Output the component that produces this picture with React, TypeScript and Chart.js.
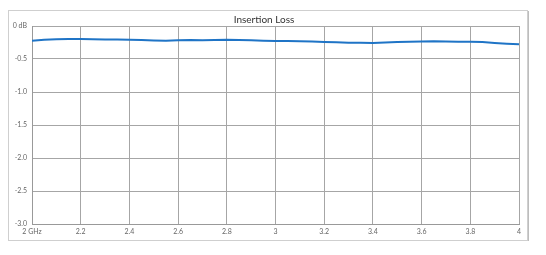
import React, { useEffect, useRef } from "react";
import { Chart, registerables } from "chart.js";

Chart.register(...registerables);

const freqGHz = [
  2.0, 2.05, 2.1, 2.15, 2.2, 2.25, 2.3, 2.35, 2.4, 2.45, 2.5, 2.55, 2.6, 2.65, 2.7, 2.75, 2.8, 2.85, 2.9, 2.95,
  3.0, 3.05, 3.1, 3.15, 3.2, 3.25, 3.3, 3.35, 3.4, 3.45, 3.5, 3.55, 3.6, 3.65, 3.7, 3.75, 3.8, 3.85, 3.9, 3.95, 4.0,
];
const lossDb = [
  -0.222, -0.208, -0.2, -0.198, -0.197, -0.2, -0.203, -0.205, -0.208, -0.213, -0.22, -0.225, -0.215, -0.212,
  -0.217, -0.212, -0.208, -0.212, -0.217, -0.222, -0.227, -0.229, -0.232, -0.236, -0.242, -0.248, -0.252,
  -0.255, -0.257, -0.25, -0.243, -0.238, -0.234, -0.23, -0.236, -0.238, -0.24, -0.244, -0.258, -0.268, -0.277,
];
const xTickLabels = ["2 GHz", "2.2", "2.4", "2.6", "2.8", "3", "3.2", "3.4", "3.6", "3.8", "4"];
const yTickLabels = ["0 dB", "-0.5", "-1.0", "-1.5", "-2.0", "-2.5", "-3.0"];
const title = "Insertion Loss";

export default function App() {
  const ref = useRef<HTMLCanvasElement>(null);
  useEffect(() => {
    if (!ref.current) return;
    const chart = new Chart(ref.current, {
      type: "line",
      data: {
        datasets: [
          {
            data: freqGHz.map((x, i) => ({ x, y: lossDb[i] })),
            borderColor: "#1f74c6",
            borderWidth: 2,
            pointRadius: 0,
            tension: 0,
          },
        ],
      },
      options: {
        responsive: false,
        animation: false,
        layout: { padding: { left: 0, right: 8, top: 0, bottom: 0 } },
        plugins: {
          legend: { display: false },
          tooltip: { enabled: false },
          title: {
            display: true,
            text: title,
            color: "#333",
            font: { family: "Lato, 'Open Sans', sans-serif", size: 10, weight: "normal" },
            padding: { top: 3, bottom: 0 },
          },
        },
        scales: {
          x: {
            type: "linear",
            min: 2,
            max: 4,
            afterFit: (s: any) => {
              s.height = 16;
            },
            afterBuildTicks: (s: any) => {
              s.ticks = xTickLabels.map((_, i) => ({ value: 2 + i * 0.2 }));
            },
            ticks: {
              autoSkip: false,
              maxRotation: 0,
              padding: 4,
              color: "#666",
              font: { family: "Lato, 'Open Sans', sans-serif", size: 7 },
              callback: (_v: any, i: number) => xTickLabels[i],
            },
            grid: { color: "#a6a6a6", drawTicks: false, lineWidth: 1 },
            border: { color: "#999", width: 1 },
          },
          y: {
            type: "linear",
            min: -3,
            max: 0,
            afterFit: (s: any) => {
              s.width = 23;
            },
            afterBuildTicks: (s: any) => {
              s.ticks = yTickLabels.map((_, i) => ({ value: -i * 0.5 }));
            },
            ticks: {
              autoSkip: false,
              padding: 5,
              color: "#666",
              font: { family: "Lato, 'Open Sans', sans-serif", size: 7 },
              callback: (_v: any, i: number) => yTickLabels[i],
            },
            grid: { color: "#a6a6a6", drawTicks: false, lineWidth: 1 },
            border: { color: "#999", width: 1 },
          },
        },
      },
    });
    return () => chart.destroy();
  }, []);
  return (
    <div style={{ paddingTop: 2 }}>
      <div
        style={{
          width: 518,
          height: 229,
          border: "1px solid #cfcfcf",
          boxShadow: "1px 1px 0 #bdbdbd",
          background: "#fff",
        }}
      >
        <canvas ref={ref} width={518} height={229} style={{ display: "block" }} />
      </div>
    </div>
  );
}
